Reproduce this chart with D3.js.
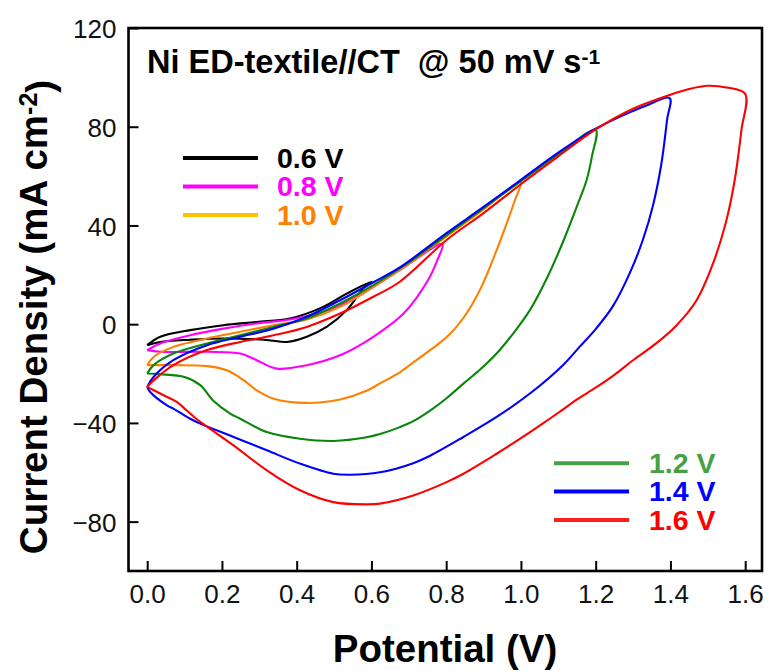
<!DOCTYPE html>
<html>
<head>
<meta charset="utf-8">
<script src="https://cdn.jsdelivr.net/npm/d3@7"></script>
<style>
  html, body { margin: 0; padding: 0; background: #ffffff; }
  svg { display: block; }
  text { font-family: "Liberation Sans", Arial, Helvetica, sans-serif; }
</style>
</head>
<body>
<svg id="chart" width="769" height="671"></svg>
<script>
// Cyclic voltammograms: potential (V) vs current density (mA cm^-2).
// Each loop: anodic sweep from 0 V to the vertex, then cathodic sweep back.
const windows = ["0.6 V", "0.8 V", "1.0 V", "1.2 V", "1.4 V", "1.6 V"];

const cv06 = [
  [0,-8.5],[0.035,-5.1],[0.115,-2.4],[0.204,-0.4],[0.293,0.9],[0.382,2.3],[0.471,7],[0.534,12.4],[0.6,17.2],
  [0.578,14.5],[0.534,5.7],[0.48,-1.1],[0.427,-5.1],[0.374,-7.2],[0.32,-6.4],[0.204,-5.8],[0.115,-6.3],[0.035,-7.2],[0,-8.5]
];
const cv08 = [
  [0,-10.5],[0.035,-7.8],[0.115,-4.5],[0.204,-1.8],[0.293,0.3],[0.382,1.9],[0.471,5],[0.561,11.1],[0.676,21.9],[0.79,32.5],
  [0.775,25.5],[0.752,18],[0.686,4.3],[0.605,-5.1],[0.516,-12.6],[0.427,-16.6],[0.347,-18],[0.293,-14.6],[0.249,-11.9],[0.16,-11.2],[0.035,-11.2],[0,-10.5]
];
const cv10 = [
  [0,-16.6],[0.017,-13.3],[0.07,-9.2],[0.16,-5.8],[0.249,-3.1],[0.338,-0.4],[0.427,1.9],[0.516,7],[0.605,15.1],[0.7,24.5],[0.8,35.5],[0.9,46.5],[1.0,57.7],
  [0.984,50.3],[0.96,40],[0.935,30],[0.89,13.8],[0.846,2.5],[0.81,-4],[0.775,-8.5],[0.757,-10.5],[0.712,-15.5],[0.676,-19.5],[0.623,-24],[0.587,-27],[0.516,-30.5],[0.427,-31.9],[0.338,-30.2],[0.293,-26.8],[0.258,-22.7],[0.213,-18.7],[0.16,-17],[0.07,-16.6],[0,-16.6]
];
const cv12 = [
  [0,-20],[0.017,-16.6],[0.07,-11.9],[0.16,-7.8],[0.249,-4.5],[0.338,-1.1],[0.427,2.3],[0.516,8.4],[0.605,15.8],[0.7,25],[0.8,36],[0.9,47],[1.0,58],[1.1,68.8],[1.2,78.7],
  [1.19,68],[1.175,58],[1.158,51],[1.113,33.5],[1.069,18.5],[1.024,5.7],[0.979,-3.8],[0.935,-11.9],[0.89,-18.5],[0.846,-24.1],[0.801,-30],[0.757,-35],[0.712,-39.3],[0.676,-41.7],[0.623,-44.5],[0.587,-45.8],[0.498,-47.3],[0.409,-46.4],[0.32,-43.7],[0.249,-38.3],[0.222,-36.2],[0.177,-31],[0.142,-24.7],[0.1,-21.4],[0.035,-20.3],[0,-20]
];
const cv14 = [
  [0,-25.4],[0.017,-21.4],[0.07,-14.6],[0.16,-8.5],[0.249,-5.1],[0.338,-1.8],[0.427,3],[0.516,9.7],[0.605,17],[0.676,23],[0.8,36.8],[0.9,47.5],[1.0,58.5],[1.1,69.5],[1.2,79.2],[1.3,86.4],[1.336,88.6],[1.398,91.6],
  [1.391,82.8],[1.376,65.2],[1.354,48.5],[1.327,34.5],[1.295,22],[1.247,7.5],[1.2,-2],[1.158,-9],[1.113,-16.5],[1.024,-28.1],[0.935,-37.6],[0.846,-45.7],[0.757,-53.3],[0.712,-56.3],[0.623,-60],[0.543,-61],[0.498,-60.6],[0.409,-56.5],[0.32,-51.1],[0.231,-45.7],[0.142,-40.3],[0.115,-38.3],[0.07,-34.2],[0.053,-32.9],[0.008,-27.5],[0,-25.4]
];
const cv16 = [
  [0,-25.4],[0.017,-22.8],[0.07,-16.6],[0.16,-10.5],[0.249,-7.2],[0.338,-4.5],[0.427,-1.1],[0.516,4.3],[0.605,11.1],[0.676,17.2],[0.801,34.1],[0.9,45],[0.997,56.4],[1.1,68],[1.2,78.9],[1.3,87.3],[1.4,93],[1.45,95.3],[1.5,96.6],[1.55,95.9],[1.6,93.3],
  [1.59,78.7],[1.572,58.4],[1.55,42.2],[1.514,24.6],[1.47,9.7],[1.416,-0.5],[1.36,-8],[1.3,-14.6],[1.25,-20.5],[1.202,-25.5],[1.15,-30.5],[1.113,-34.5],[1.051,-41],[0.997,-46.5],[0.935,-52.5],[0.846,-60.6],[0.801,-64],[0.712,-69.4],[0.623,-72.7],[0.587,-73],[0.498,-72.1],[0.409,-67.3],[0.32,-59.2],[0.231,-49.1],[0.16,-41.5],[0.133,-38.5],[0.106,-35],[0.079,-31.5],[0.044,-28.8],[0,-25.4]
];

const curveColors  = ["#000000", "#ff00ff", "#ff8000", "#0a870a", "#0000ff", "#ff0000"];
const legendLineColors = ["#000000", "#ff00ff", "#ffc000", "#46a046", "#0000ff", "#ff2020"];
const legendTextColors = ["#000000", "#ff00ff", "#ff8000", "#46a046", "#0000ff", "#ff0000"];

const xTicks = [0, 0.2, 0.4, 0.6, 0.8, 1.0, 1.2, 1.4, 1.6];
const yTicks = [-80, -40, 0, 40, 80, 120];

const loops = [cv06, cv08, cv10, cv12, cv14, cv16];

const svg = d3.select("#chart");
const plotLeft = 128.5, plotRight = 762, plotTop = 28, plotBottom = 571;

const x = d3.scaleLinear().domain([-0.05, 1.645]).range([plotLeft, plotRight]);
const y = d3.scaleLinear().domain([-100, 120]).range([plotBottom, plotTop]);

// Curves
const line = d3.line()
  .x(d => x(d[0]))
  .y(d => y(d[1]))
  .curve(d3.curveCatmullRom.alpha(0.5));

svg.append("g")
  .selectAll("path")
  .data(loops)
  .join("path")
  .attr("d", line)
  .attr("fill", "none")
  .attr("stroke", (d, i) => curveColors[i])
  .attr("stroke-width", 2.1)
  .attr("stroke-linejoin", "round");

// Axes with inward ticks
const xAxis = svg.append("g")
  .attr("transform", `translate(0,${plotBottom})`)
  .call(d3.axisBottom(x).tickValues(xTicks).tickFormat(d3.format(".1f"))
    .tickSizeInner(-10).tickSizeOuter(0).tickPadding(14));
const yAxis = svg.append("g")
  .attr("transform", `translate(${plotLeft},0)`)
  .call(d3.axisLeft(y).tickValues(yTicks).tickFormat(d3.format("d"))
    .tickSizeInner(-10).tickSizeOuter(0).tickPadding(12));

[xAxis, yAxis].forEach(g => {
  g.select(".domain").remove();
  g.selectAll(".tick line").attr("stroke", "#000").attr("stroke-width", 2);
  g.selectAll(".tick text")
    .attr("fill", "#111")
    .style("font-size", "26px")
    .style("font-family", "'Liberation Sans', Arial, sans-serif");
});
yAxis.selectAll(".tick text").attr("dy", "0.37em");

// Frame
svg.append("rect")
  .attr("x", plotLeft).attr("y", plotTop)
  .attr("width", plotRight - plotLeft).attr("height", plotBottom - plotTop)
  .attr("fill", "none").attr("stroke", "#000").attr("stroke-width", 2.6);

// Axis titles
svg.append("text")
  .attr("x", 445).attr("y", 662)
  .attr("text-anchor", "middle")
  .style("font-size", "38.5px").style("font-weight", "bold")
  .text("Potential (V)");

const yTitle = svg.append("text")
  .attr("transform", "translate(47,317) rotate(-90)")
  .attr("text-anchor", "middle")
  .style("font-size", "38.5px").style("font-weight", "bold");
yTitle.append("tspan").text("Current Density (mA cm");
yTitle.append("tspan").attr("dy", "-0.42em").style("font-size", "25px").text("-2");
yTitle.append("tspan").attr("dy", "0.42em").text(")");

// Plot title
const title = svg.append("text")
  .attr("x", 147).attr("y", 73)
  .style("font-size", "32.5px").style("font-weight", "bold")
  .style("white-space", "pre");
title.append("tspan").text("Ni ED-textile//CT  @ 50 mV s");
title.append("tspan").attr("dy", "-0.45em").style("font-size", "21px").text("-1");

// Legends
const legendUpper = [0, 1, 2].map((k, j) => ({ k, ly: 158 + j * 28.5 }));
const legendLower = [3, 4, 5].map((k, j) => ({ k, ly: 463.3 + j * 28.3 }));

function drawLegend(items, x0, x1, tx) {
  const g = svg.append("g");
  items.forEach(({ k, ly }) => {
    g.append("line")
      .attr("x1", x0).attr("x2", x1).attr("y1", ly).attr("y2", ly)
      .attr("stroke", legendLineColors[k]).attr("stroke-width", 4);
    g.append("text")
      .attr("x", tx).attr("y", ly + 9.8)
      .attr("fill", legendTextColors[k])
      .style("font-size", "28.5px").style("font-weight", "bold")
      .text(windows[k]);
  });
}
drawLegend(legendUpper, 183, 258, 277);
drawLegend(legendLower, 554, 629, 649);
</script>
</body>
</html>
